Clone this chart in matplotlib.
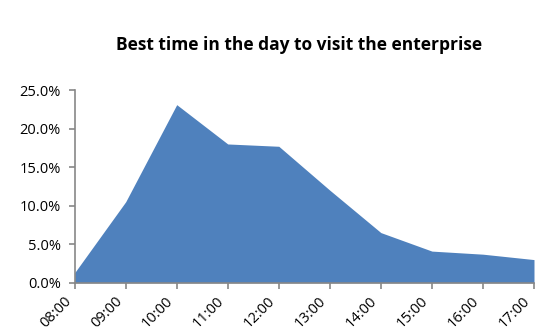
import matplotlib.pyplot as plt
import matplotlib.transforms as mtransforms
from matplotlib.ticker import PercentFormatter

hours = ['08:00', '09:00', '10:00', '11:00', '12:00', '13:00', '14:00', '15:00', '16:00', '17:00']
share = [1.3, 10.5, 23.1, 18.0, 17.7, 12.0, 6.5, 4.1, 3.7, 3.0]

plt.rcParams['font.family'] = ['Open Sans', 'DejaVu Sans']

fig = plt.figure(figsize=(5.37, 3.36), dpi=100)
ax = fig.add_axes([0.139, 0.1586, 0.8554, 0.5735])

x = list(range(len(hours)))
ax.fill_between(x, share, 0, color='#4F81BD', linewidth=0)

ax.set_xlim(0, len(hours) - 1)
ax.set_ylim(0, 25)
ax.set_yticks([0, 5, 10, 15, 20, 25])
ax.yaxis.set_major_formatter(PercentFormatter(decimals=1))
ax.set_xticks(x)
ax.set_xticklabels(hours, rotation=45, ha='right', rotation_mode='anchor')

for side in ['top', 'right']:
    ax.spines[side].set_visible(False)
for side in ['left', 'bottom']:
    ax.spines[side].set_color('#878787')
    ax.spines[side].set_linewidth(1.2)
ax.tick_params(axis='both', colors='#878787', labelcolor='black', labelsize=10.5,
               length=4, width=1.2, direction='out')
ax.tick_params(axis='x', pad=4)
ax.tick_params(axis='y', pad=6)

# nudge the rotated hour labels left so the last one stays inside the figure
shift = mtransforms.ScaledTranslation(-8 / 72, 0, fig.dpi_scale_trans)
for lbl in ax.get_xticklabels():
    lbl.set_transform(lbl.get_transform() + shift)

fig.text(0.5575, 0.866, 'Best time in the day to visit the enterprise',
         ha='center', va='center', fontsize=12.5, fontweight='bold')

fig.savefig('out.png', dpi=100)
